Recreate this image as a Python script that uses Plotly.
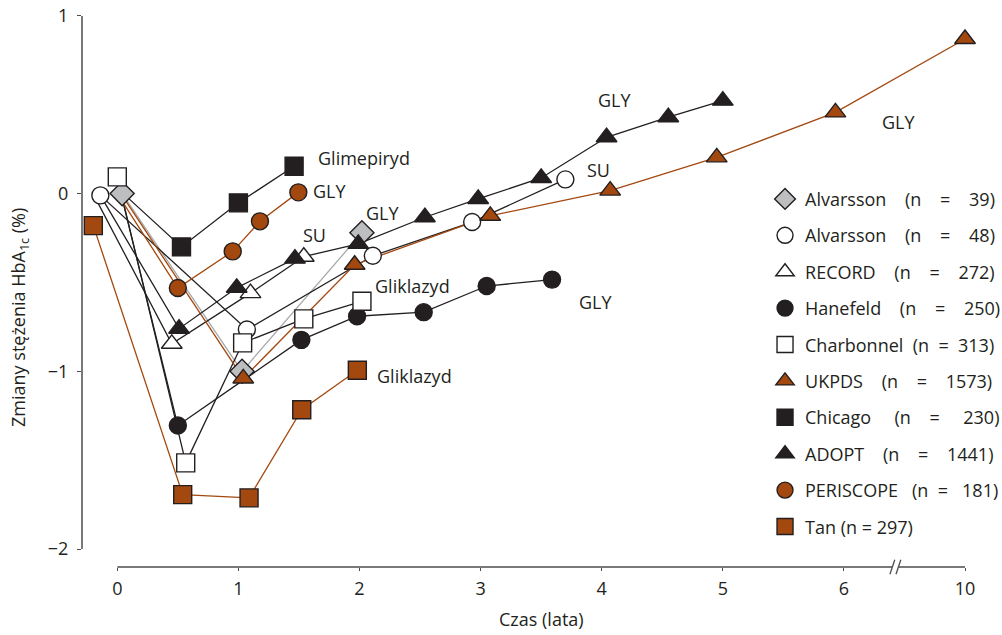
import plotly.graph_objects as go

FONT = "Open Sans"
INK = "#231f20"
AXIS = "#4d4d4f"
BROWN = "#a3480f"
GRAY_FILL = "#bcbec0"
GRAY_LINE = "#a7a9ac"

# ---------------- data (years, change in HbA1c %) ----------------
alv39_t = [0.04, 1.03, 2.02]
alv39_v = [0.0, -1.00, -0.22]

alv48_t = [-0.14, 1.07, 2.11, 2.93, 3.70]
alv48_v = [-0.01, -0.765, -0.35, -0.16, 0.08]

record_t = [-0.20, 0.45, 1.10, 1.54]
record_v = [0.0, -0.845, -0.56, -0.355]

hanefeld_t = [0.03, 0.50, 1.52, 1.98, 2.53, 3.05, 3.59]
hanefeld_v = [0.0, -1.305, -0.823, -0.69, -0.667, -0.52, -0.484]

charbonnel_t = [0.0, 0.565, 1.035, 1.54, 2.02]
charbonnel_v = [0.094, -1.515, -0.84, -0.705, -0.606]

ukpds_t = [0.03, 1.04, 1.96, 3.08, 4.07, 4.95, 5.93, 10.0]
ukpds_v = [0.0, -1.04, -0.40, -0.125, 0.017, 0.204, 0.457, 0.87]

chicago_t = [0.05, 0.53, 1.0, 1.46]
chicago_v = [0.0, -0.30, -0.052, 0.154]

adopt_t = [-0.14, 0.51, 0.986, 1.467, 1.99, 2.54, 2.98, 3.50, 4.04, 4.55, 5.0]
adopt_v = [-0.01, -0.76, -0.53, -0.366, -0.283, -0.133, -0.03, 0.088, 0.317, 0.43, 0.523]

periscope_t = [0.0, 0.50, 0.953, 1.178, 1.495]
periscope_v = [0.0, -0.531, -0.325, -0.156, 0.007]

tan_t = [-0.198, 0.54, 1.088, 1.523, 1.982]
tan_v = [-0.18, -1.694, -1.712, -1.216, -0.994]

NB = "\u00a0"
legend_names = [
    f"Alvarsson{NB*4}(n{NB*4}={NB*4}39)",
    f"Alvarsson{NB*4}(n{NB*4}={NB*4}48)",
    f"RECORD{NB*4}(n{NB*4}={NB*4}272)",
    f"Hanefeld{NB*4}(n{NB*4}={NB*4}250)",
    f"Charbonnel{NB*2}(n{NB*2}={NB*2}313)",
    f"UKPDS{NB*4}(n{NB*4}={NB*4}1573)",
    f"Chicago{NB*5}(n{NB*4}={NB*5}230)",
    f"ADOPT{NB*4}(n{NB*4}={NB*4}1441)",
    f"PERISCOPE{NB*3}(n{NB*2}={NB*3}181)",
    "Tan (n = 297)",
]

x_tick_years = [0, 1, 2, 3, 4, 5, 6, 10]
x_tick_labels = ["0", "1", "2", "3", "4", "5", "6", "10"]
y_tick_vals = [-2, -1, 0, 1]

# drug labels: (text, x position on axis, y)
drug_labels = [
    ("Glimepiryd", 1.64, 0.20),
    ("GLY", 1.60, 0.013),
    ("GLY", 2.04, -0.109),
    ("SU", 1.52, -0.231),
    ("Gliklazyd", 2.11, -0.518),
    ("Gliklazyd", 2.125, -1.028),
    ("GLY", 3.80, -0.612),
    ("SU", 3.86, 0.135),
    ("GLY", 3.955, 0.529),
    ("GLY", 6.295, 0.401),
]


def axis_pos(t):
    """Broken time axis: 6..10 years compressed into one tick interval."""
    return t if t <= 6 else 6 + (t - 6) / 4.0


# name, t, v, symbol, fill, line colour, size, baseline marker shown
series = [
    (legend_names[0], alv39_t, alv39_v, "diamond", GRAY_FILL, GRAY_LINE, 18.5, True),
    (legend_names[1], alv48_t, alv48_v, "circle", "white", INK, 17, True),
    (legend_names[2], record_t, record_v, "triangle-up", "white", INK, 18, False),
    (legend_names[3], hanefeld_t, hanefeld_v, "circle", INK, INK, 17, False),
    (legend_names[4], charbonnel_t, charbonnel_v, "square", "white", INK, 18, True),
    (legend_names[5], ukpds_t, ukpds_v, "triangle-up", BROWN, BROWN, 18, False),
    (legend_names[6], chicago_t, chicago_v, "square", INK, INK, 18, False),
    (legend_names[7], adopt_t, adopt_v, "triangle-up", INK, INK, 18, False),
    (legend_names[8], periscope_t, periscope_v, "circle", BROWN, BROWN, 17, False),
    (legend_names[9], tan_t, tan_v, "square", BROWN, BROWN, 18, True),
]

fig = go.Figure()

# connecting lines first (beneath every marker)
for name, t, v, sym, fill, lc, size, shown in series:
    fig.add_trace(go.Scatter(
        x=[axis_pos(a) for a in t], y=v, mode="lines",
        line=dict(color=lc, width=1.3), showlegend=False, hoverinfo="skip"))

# markers
for i, (name, t, v, sym, fill, lc, size, shown) in enumerate(series):
    s = 0 if shown else 1
    fig.add_trace(go.Scatter(
        x=[axis_pos(a) for a in t[s:]], y=v[s:], mode="markers", name=name,
        legendgroup=f"g{i}", legendrank=i + 1,
        marker=dict(symbol=sym, size=size, color=fill,
                    line=dict(color=INK, width=1.4)),
        showlegend=True))

for text, x, y in drug_labels:
    fig.add_annotation(x=x, y=y, text=text, showarrow=False, xanchor="left",
                       yanchor="middle", font=dict(size=18, color=INK, family=FONT))

# axis titles
fig.add_annotation(x=3.5, y=-0.093, xref="x", yref="paper",
                   text="Czas (lata)", showarrow=False, xanchor="center", yanchor="middle",
                   font=dict(size=18, color=INK, family=FONT))
fig.add_annotation(x=-0.069, y=0.446, xref="paper", yref="paper",
                   text="Zmiany stężenia HbA<sub>1c</sub> (%)", textangle=-90,
                   showarrow=False, xanchor="center", yanchor="middle",
                   font=dict(size=18, color=INK, family=FONT))

# axis lines (x axis broken between 6 and 10)
brk0, brk1 = 6.40, 6.45
shapes = [
    dict(type="line", xref="x", yref="paper", x0=0, x1=brk0, y0=0, y1=0,
         line=dict(color=AXIS, width=1.5)),
    dict(type="line", xref="x", yref="paper", x0=brk1, x1=axis_pos(10), y0=0, y1=0,
         line=dict(color=AXIS, width=1.5)),
    dict(type="line", xref="x", yref="paper", x0=brk0 - 0.02, x1=brk0 + 0.02,
         y0=-0.013, y1=0.013, line=dict(color=AXIS, width=1.3)),
    dict(type="line", xref="x", yref="paper", x0=brk1 - 0.02, x1=brk1 + 0.02,
         y0=-0.013, y1=0.013, line=dict(color=AXIS, width=1.3)),
    dict(type="line", xref="paper", yref="y", x0=0, x1=0, y0=-2, y1=1,
         line=dict(color=AXIS, width=1.5)),
]

fig.update_layout(
    width=1002, height=635,
    margin=dict(l=82, r=17, t=7, b=68, autoexpand=False),
    paper_bgcolor="white", plot_bgcolor="white",
    font=dict(family=FONT, size=18, color=INK),
    shapes=shapes,
    showlegend=True,
    legend=dict(x=0.7564, y=0.6898, xanchor="left", yanchor="top",
                bgcolor="rgba(0,0,0,0)", tracegroupgap=10, itemsizing="trace",
                font=dict(size=18, color=INK, family=FONT)),
    xaxis=dict(range=[-0.2915, 7.165], showgrid=False, zeroline=False, showline=False,
               tickmode="array", tickvals=[axis_pos(a) for a in x_tick_years],
               ticktext=x_tick_labels, ticks="outside", ticklen=3, tickwidth=1.3,
               tickcolor=AXIS, tickfont=dict(size=18, color=INK), ticklabelstandoff=2),
    yaxis=dict(range=[-2.101, 1.05], showgrid=False, zeroline=False, showline=False,
               tickmode="array", tickvals=y_tick_vals, ticks="outside", ticklen=4,
               tickwidth=1.3, tickcolor=AXIS, tickfont=dict(size=18, color=INK),
               ticklabelstandoff=5),
)

fig.write_html("out.html")
